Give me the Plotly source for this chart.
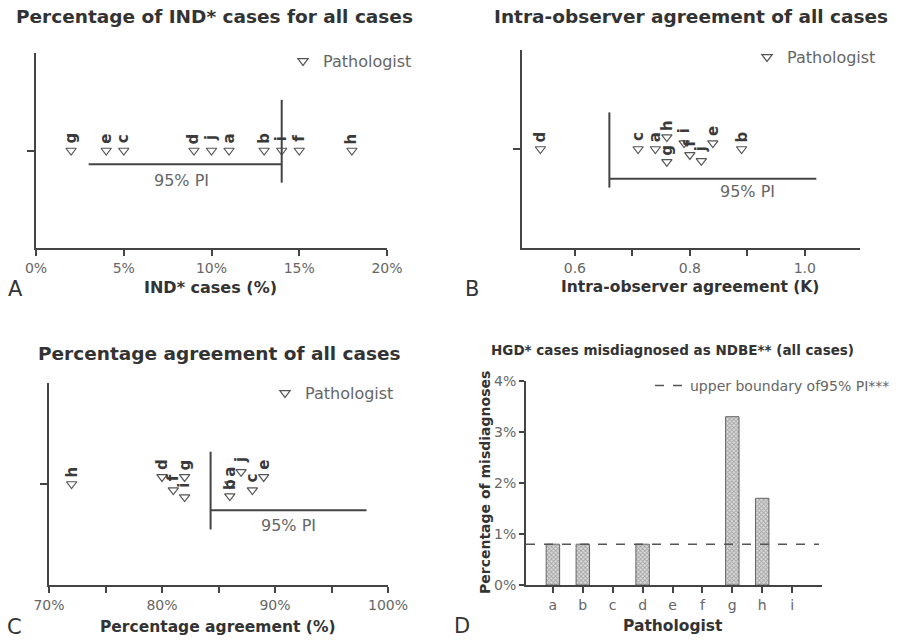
import plotly.graph_objects as go

# ---------------- data ----------------
pathologists = ["a", "b", "c", "d", "e", "f", "g", "h", "i", "j"]

# Panel A: percentage of IND* cases
ind_pct = [11, 13, 5, 9, 4, 15, 2, 18, 14, 10]
ind_y = [0, 0, 0, 0, 0, 0, 0, 0, 0, 0]
ind_pi = [3, 14]

# Panel B: intra-observer agreement (kappa)
kappa = [0.74, 0.89, 0.71, 0.54, 0.84, 0.80, 0.76, 0.76, 0.79, 0.82]
kappa_y = [0, 0, 0, 0, 0.06, -0.06, -0.13, 0.12, 0.06, -0.12]
kappa_pi = [0.66, 1.02]

# Panel C: percentage agreement
agree_pct = [86, 86, 88, 80, 89, 81, 82, 72, 82, 87]
agree_y = [0, -0.12, -0.06, 0.07, 0.07, -0.06, 0.07, 0, -0.13, 0.12]
agree_pi = [84.3, 98.1]

# Panel D: HGD* cases misdiagnosed as NDBE**
misdiag_cats = ["a", "b", "c", "d", "e", "f", "g", "h", "i"]
misdiag_pct = [0.8, 0.8, 0, 0.8, 0, 0, 3.3, 1.7, 0]
misdiag_bound = 0.8

A_xticks = [0, 5, 10, 15, 20]
B_xticks = [0.6, 0.7, 0.8, 0.9, 1.0, 1.1]
B_xticklabels = ["0.6", "", "0.8", "", "1.0", ""]
C_xticks = [70, 75, 80, 85, 90, 95, 100]
C_xticklabels = ["70%", "", "80%", "", "90%", "", "100%"]
D_yticks = [0, 1, 2, 3, 4]

# ---------------- styling ----------------
W, H = 901, 641
AX = "#444444"
TXT = "#333333"
TICK = "#666666"
MK = "#555555"
FONT = "DejaVu Sans"


def px(x):
    return x / W


def py(y):
    return 1 - y / H


fig = go.Figure()

panels = [
    ("x", "y", ind_pct, ind_y, "legend"),
    ("x2", "y2", kappa, kappa_y, "legend2"),
    ("x3", "y3", agree_pct, agree_y, "legend3"),
]

for xr, yr, xs, ys, lg in panels:
    fig.add_trace(go.Scatter(
        x=xs, y=ys, xaxis=xr, yaxis=yr, mode="markers", name="Pathologist",
        legend=lg, showlegend=True,
        marker=dict(symbol="triangle-down-open", size=9, color=MK, line=dict(width=1.2, color=MK)),
        cliponaxis=False,
    ))
    for xv, yv, lab in zip(xs, ys, pathologists):
        fig.add_annotation(x=xv, y=yv, xref=xr, yref=yr, text=lab, textangle=-90,
                           showarrow=False, yshift=12,
                           font=dict(family=FONT, size=15, color="#3a3a3a", weight="bold"))

# PI lines (A: upper bound marked, B & C: lower bound marked)
line_style = dict(color=AX, width=2)
fig.add_trace(go.Scatter(x=ind_pi, y=[-0.14, -0.14], xaxis="x", yaxis="y", mode="lines",
                         line=line_style, showlegend=False, hoverinfo="skip"))
fig.add_trace(go.Scatter(x=[ind_pi[1], ind_pi[1]], y=[0.52, -0.33], xaxis="x", yaxis="y", mode="lines",
                         line=line_style, showlegend=False, hoverinfo="skip"))
fig.add_annotation(x=(ind_pi[0] + ind_pi[1]) / 2 - 0.2, y=-0.31, xref="x", yref="y", text="95% PI",
                   showarrow=False, font=dict(family=FONT, size=16, color=TICK))

fig.add_trace(go.Scatter(x=kappa_pi, y=[-0.30, -0.30], xaxis="x2", yaxis="y2", mode="lines",
                         line=line_style, showlegend=False, hoverinfo="skip"))
fig.add_trace(go.Scatter(x=[kappa_pi[0], kappa_pi[0]], y=[0.37, -0.39], xaxis="x2", yaxis="y2", mode="lines",
                         line=line_style, showlegend=False, hoverinfo="skip"))
fig.add_annotation(x=0.90, y=-0.43, xref="x2", yref="y2", text="95% PI",
                   showarrow=False, font=dict(family=FONT, size=16, color=TICK))

fig.add_trace(go.Scatter(x=agree_pi, y=[-0.26, -0.26], xaxis="x3", yaxis="y3", mode="lines",
                         line=line_style, showlegend=False, hoverinfo="skip"))
fig.add_trace(go.Scatter(x=[agree_pi[0], agree_pi[0]], y=[0.32, -0.45], xaxis="x3", yaxis="y3", mode="lines",
                         line=line_style, showlegend=False, hoverinfo="skip"))
fig.add_annotation(x=91.2, y=-0.41, xref="x3", yref="y3", text="95% PI",
                   showarrow=False, font=dict(family=FONT, size=16, color=TICK))

# Panel D bars (numeric positions for the categories)
d_pos = list(range(len(misdiag_cats)))
fig.add_trace(go.Bar(
    x=d_pos, y=misdiag_pct, xaxis="x4", yaxis="y4", width=0.45, showlegend=False,
    marker=dict(color="white",
                line=dict(color="#666666", width=[1 if v > 0 else 0 for v in misdiag_pct]),
                pattern=dict(shape="x", size=3, solidity=0.5, fgcolor="#666666", bgcolor="#dddddd")),
))
fig.add_trace(go.Scatter(
    x=[d_pos[0] - 0.9, d_pos[-1] + 0.9], y=[misdiag_bound, misdiag_bound], xaxis="x4", yaxis="y4",
    mode="lines", name="upper boundary of95% PI***", legend="legend4", showlegend=True,
    line=dict(color="#555555", width=1.5, dash="dash"),
))

# ---------------- axes ----------------
base_x = dict(showline=True, linecolor=AX, linewidth=2, ticks="outside", tickcolor=AX,
              tickwidth=2, ticklen=6, showgrid=False, zeroline=False, automargin=False,
              tickfont=dict(family=FONT, size=14, color=TICK))
base_y = dict(showline=True, linecolor=AX, linewidth=2, ticks="outside", tickcolor=AX,
              tickwidth=2, ticklen=7, showgrid=False, zeroline=False, range=[-1, 1],
              tickvals=[0], ticktext=[""], automargin=False)

fig.update_layout(
    xaxis=dict(base_x, domain=[px(36), px(387)], range=[0, 20], tickvals=A_xticks,
               ticktext=[f"{v}%" for v in A_xticks], anchor="y"),
    yaxis=dict(base_y, domain=[py(248), py(53)], anchor="x"),
    xaxis2=dict(base_x, domain=[px(522), px(860)], range=[0.508, 1.096], tickvals=B_xticks,
                ticktext=B_xticklabels, anchor="y2"),
    yaxis2=dict(base_y, domain=[py(248), py(50)], anchor="x2"),
    xaxis3=dict(base_x, domain=[px(49), px(388)], range=[70, 100], tickvals=C_xticks,
                ticktext=C_xticklabels, anchor="y3"),
    yaxis3=dict(base_y, domain=[py(585), py(383)], anchor="x3"),
    xaxis4=dict(base_x, domain=[px(526), px(822)], range=[-0.9, 9.0],
                tickvals=d_pos, ticktext=misdiag_cats, anchor="y4"),
    yaxis4=dict(base_x, domain=[py(585), py(381)], range=[0, 4], tickvals=D_yticks,
                ticktext=[f"{v}%" for v in D_yticks], anchor="x4", ticklen=5),
)

# ---------------- legends ----------------
leg_font = dict(family=FONT, size=16, color=TICK)
fig.update_layout(
    legend=dict(x=px(283), y=py(44), xanchor="left", yanchor="top", font=leg_font,
                bgcolor="rgba(0,0,0,0)"),
    legend2=dict(x=px(747), y=py(40), xanchor="left", yanchor="top", font=leg_font,
                 bgcolor="rgba(0,0,0,0)"),
    legend3=dict(x=px(265), y=py(376), xanchor="left", yanchor="top", font=leg_font,
                 bgcolor="rgba(0,0,0,0)"),
    legend4=dict(x=px(650), y=py(370), xanchor="left", yanchor="top",
                 font=dict(family=FONT, size=14, color=TICK), bgcolor="rgba(0,0,0,0)"),
)

# ---------------- titles and labels ----------------
def paper_text(x, y, text, size, bold=False, color=TXT, angle=0):
    fig.add_annotation(x=px(x), y=py(y), xref="paper", yref="paper", text=text,
                       showarrow=False, textangle=angle, xanchor="center", yanchor="middle",
                       font=dict(family=FONT, size=size, color=color,
                                 weight="bold" if bold else "normal"))


paper_text(214, 17, "Percentage of IND* cases for all cases", 18.5, True)
paper_text(691, 17, "Intra-observer agreement of all cases", 18.5, True)
paper_text(219, 353, "Percentage agreement of all cases", 18.5, True)
paper_text(672, 350, "HGD* cases misdiagnosed as NDBE** (all cases)", 13.5, True)

paper_text(210, 287, "IND* cases (%)", 16, True)
paper_text(690, 287, "Intra-observer agreement (K)", 15.5, True)
paper_text(218, 627, "Percentage agreement (%)", 15.5, True)
paper_text(673, 626, "Pathologist", 15.5, True)
paper_text(485, 483, "Percentage of misdiagnoses", 14, True, angle=-90)

paper_text(15, 289, "A", 21)
paper_text(472, 289, "B", 21)
paper_text(14, 627, "C", 21)
paper_text(462, 626, "D", 21)

fig.update_layout(
    width=W, height=H, margin=dict(l=0, r=0, t=0, b=0, autoexpand=False),
    paper_bgcolor="white", plot_bgcolor="white",
    font=dict(family=FONT, color=TXT),
)

fig.write_html(
    "out.html",
    config={"displayModeBar": False},
    post_script="document.body.style.margin='0';document.body.style.padding='0';"
                "document.body.style.overflow='hidden';",
)
